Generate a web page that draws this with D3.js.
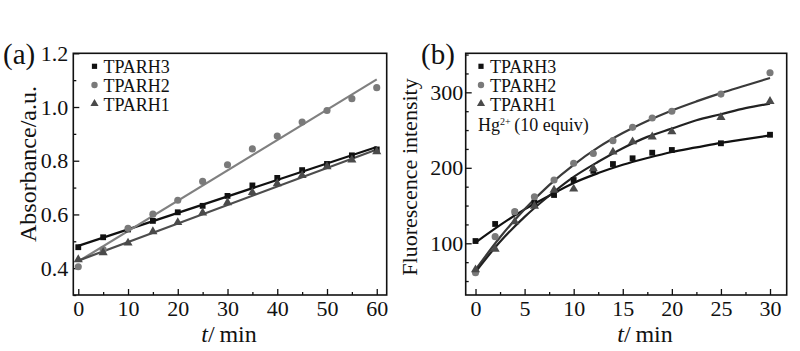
<!DOCTYPE html>
<html><head><meta charset="utf-8">
<script src="https://cdn.jsdelivr.net/npm/d3@7"></script>
<style>
html,body{margin:0;padding:0;background:#fff;}
svg{display:block;font-family:"Liberation Serif","Times New Roman",serif;}
</style></head>
<body>
<svg id="c" width="800" height="351"></svg>
<script>
// ---------- DATA ----------
const seriesNames = ["TPARH3", "TPARH2", "TPARH1"];

// Panel (a): absorbance vs time
const timeA = [0, 5, 10, 15, 20, 25, 30, 35, 40, 45, 50, 55, 60];
const absTPARH3 = [0.478, 0.515, 0.544, 0.576, 0.608, 0.632, 0.669, 0.708, 0.736, 0.765, 0.788, 0.820, 0.842];
const absTPARH2 = [0.405, 0.469, 0.548, 0.601, 0.653, 0.723, 0.785, 0.844, 0.892, 0.944, 0.987, 1.031, 1.072];
const absTPARH1 = [0.432, 0.458, 0.494, 0.536, 0.570, 0.606, 0.644, 0.682, 0.715, 0.745, 0.778, 0.803, 0.834];
// linear fit lines (value at t=0 and t=60)
const fitTimeA = [0, 60];
const absFitTPARH3 = [0.483, 0.851];
const absFitTPARH2 = [0.425, 1.103];
const absFitTPARH1 = [0.428, 0.842];
const xTicksA = [0, 10, 20, 30, 40, 50, 60];
const yTicksA = [0.4, 0.6, 0.8, 1.0, 1.2];

// Panel (b): fluorescence intensity vs time
const timeB = [0, 2, 4, 6, 8, 10, 12, 14, 16, 18, 20, 25, 30];
const flTPARH3 = [103, 125.6, 141, 154, 164, 183.8, 196, 205, 212.6, 220, 223.6, 232.5, 243.8];
const flTPARH2 = [61, 108.8, 141.9, 161.7, 183.8, 206, 219, 236, 253.6, 266, 275, 297.7, 326];
const flTPARH1 = [65, 92.4, 128.6, 149.4, 170.6, 172, 199, 221, 234.6, 241, 247.8, 266.9, 288];
// fitted curves
const fitTimeB = [0, 2.5, 5, 7.5, 10, 12.5, 15, 17.5, 20, 22.5, 25, 27.5, 30];
const flFitTPARH3 = [101, 124, 145, 163, 180, 193, 204, 213, 221, 227, 233, 238, 243];
const flFitTPARH2 = [65, 108, 145, 177, 204, 227, 246, 262, 276, 288, 299, 309, 319];
const flFitTPARH1 = [62, 102, 135, 163, 188, 208, 226, 241, 252, 263, 271, 279, 285];
const xTicksB = [0, 5, 10, 15, 20, 25, 30];
const yTicksB = [100, 200, 300];

// ---------- STYLE ----------
const markerColor = {TPARH3: "#111", TPARH2: "#7a7a7a", TPARH1: "#4a4a4a"};
const lineColorA = {TPARH3: "#111", TPARH2: "#808080", TPARH1: "#4d4d4d"};
const lineColorB = {TPARH3: "#111", TPARH2: "#3a3a3a", TPARH1: "#222"};
const markerType = {TPARH3: d3.symbolSquare, TPARH2: d3.symbolCircle, TPARH1: d3.symbolTriangle};
const markerSize = {TPARH3: 34, TPARH2: 40, TPARH1: 36};

const svg = d3.select("#c");

function panel(cfg) {
  const g = svg.append("g");
  const x = d3.scaleLinear().domain(cfg.xDomain).range([cfg.left, cfg.right]);
  const y = d3.scaleLinear().domain(cfg.yDomain).range([cfg.bottom, cfg.top]);

  // minor ticks
  g.append("g").attr("transform", `translate(0,${cfg.bottom})`)
    .call(d3.axisBottom(x).tickValues(cfg.xMinor).tickSize(-3).tickFormat(""))
    .call(a => a.select(".domain").remove());
  g.append("g").attr("transform", `translate(${cfg.left},0)`)
    .call(d3.axisLeft(y).tickValues(cfg.yMinor).tickSize(-3).tickFormat(""))
    .call(a => a.select(".domain").remove());
  // major ticks
  g.append("g").attr("transform", `translate(0,${cfg.bottom})`)
    .call(d3.axisBottom(x).tickValues(cfg.xTicks).tickSize(-6).tickPadding(5).tickFormat(d3.format("d")))
    .call(a => a.select(".domain").remove());
  g.append("g").attr("transform", `translate(${cfg.left},0)`)
    .call(d3.axisLeft(y).tickValues(cfg.yTicks).tickSize(-6).tickPadding(cfg.yPad).tickFormat(cfg.yFormat))
    .call(a => a.select(".domain").remove());
  g.selectAll(".tick line").attr("stroke", "#111").attr("stroke-width", 1.3);
  g.selectAll(".tick text").attr("font-size", 22).attr("fill", "#111")
    .attr("font-family", '"Liberation Serif", serif');

  // frame
  g.append("rect").attr("x", cfg.left).attr("y", cfg.top)
    .attr("width", cfg.right - cfg.left).attr("height", cfg.bottom - cfg.top)
    .attr("fill", "none").attr("stroke", "#111").attr("stroke-width", 1.6);

  // fit lines
  cfg.series.forEach(s => {
    const pts = s.fitX.map((t, i) => [t, s.fitY[i]]);
    g.append("path").datum(pts)
      .attr("fill", "none").attr("stroke", s.lineColor).attr("stroke-width", 2.2)
      .attr("d", d3.line().x(d => x(d[0])).y(d => y(d[1])).curve(d3.curveMonotoneX));
  });
  // markers
  cfg.series.forEach(s => {
    g.append("g").selectAll("path").data(s.x.map((t, i) => [t, s.y[i]])).join("path")
      .attr("transform", d => `translate(${x(d[0])},${y(d[1])})`)
      .attr("d", d3.symbol().type(markerType[s.name]).size(markerSize[s.name]))
      .attr("fill", markerColor[s.name]);
  });

  // legend
  cfg.series.forEach((s, i) => {
    const yy = cfg.legTop + i * 18.7;
    g.append("path").attr("transform", `translate(${cfg.legX},${yy - 7})`)
      .attr("d", d3.symbol().type(markerType[s.name]).size(markerSize[s.name] * 0.8))
      .attr("fill", markerColor[s.name]);
    g.append("text").attr("x", cfg.legX + 9).attr("y", yy).attr("font-size", 18)
      .attr("fill", "#111").text(s.name);
  });

  // panel label
  g.append("text").attr("x", cfg.labelX).attr("y", 64).attr("font-size", 29)
    .attr("fill", "#111").text(cfg.label);

  // axis titles
  const xt = g.append("text").attr("x", cfg.xTitleX).attr("y", 342).attr("text-anchor", "middle")
    .attr("font-size", 24).attr("fill", "#111");
  xt.append("tspan").attr("font-style", "italic").text("t");
  xt.append("tspan").text("/\u2009min");
  g.append("text").attr("transform", `translate(${cfg.yTitleX},${cfg.yTitleY}) rotate(-90)`)
    .attr("text-anchor", "middle").attr("font-size", cfg.yTitleSize).attr("fill", "#111")
    .text(cfg.yTitle);
  return {g, x, y};
}

panel({
  left: 73.3, right: 386.7, top: 53.3, bottom: 295,
  xDomain: [-1, 62], yDomain: [0.3, 1.2],
  xTicks: xTicksA, yTicks: yTicksA,
  xMinor: [5, 15, 25, 35, 45, 55], yMinor: [0.3, 0.5, 0.7, 0.9, 1.1],
  yFormat: d3.format(".1f"), yPad: 5,
  series: [
    {name: "TPARH3", x: timeA, y: absTPARH3, fitX: fitTimeA, fitY: absFitTPARH3, lineColor: lineColorA.TPARH3},
    {name: "TPARH2", x: timeA, y: absTPARH2, fitX: fitTimeA, fitY: absFitTPARH2, lineColor: lineColorA.TPARH2},
    {name: "TPARH1", x: timeA, y: absTPARH1, fitX: fitTimeA, fitY: absFitTPARH1, lineColor: lineColorA.TPARH1}
  ],
  legX: 94.5, legTop: 73.3,
  label: "(a)", labelX: 3,
  xTitleX: 229, yTitle: "Absorbance/a.u.", yTitleX: 36, yTitleY: 164, yTitleSize: 24
});

const pb = panel({
  left: 465.7, right: 786.7, top: 53.3, bottom: 295,
  xDomain: [-1, 31.7], yDomain: [31.5, 351.7],
  xTicks: xTicksB, yTicks: yTicksB,
  xMinor: [2.5, 7.5, 12.5, 17.5, 22.5, 27.5], yMinor: [50, 75, 125, 150, 175, 225, 250, 275, 325, 350],
  yFormat: d3.format("d"), yPad: 2.5,
  series: [
    {name: "TPARH3", x: timeB, y: flTPARH3, fitX: fitTimeB, fitY: flFitTPARH3, lineColor: lineColorB.TPARH3},
    {name: "TPARH2", x: timeB, y: flTPARH2, fitX: fitTimeB, fitY: flFitTPARH2, lineColor: lineColorB.TPARH2},
    {name: "TPARH1", x: timeB, y: flTPARH1, fitX: fitTimeB, fitY: flFitTPARH1, lineColor: lineColorB.TPARH1}
  ],
  legX: 481, legTop: 73.3,
  label: "(b)", labelX: 421,
  xTitleX: 645, yTitle: "Fluorescence intensity", yTitleX: 417, yTitleY: 177, yTitleSize: 22
});

// Hg2+ note
const hg = pb.g.append("text").attr("x", 478).attr("y", 131).attr("font-size", 18).attr("fill", "#111");
hg.append("tspan").text("Hg");
hg.append("tspan").attr("font-size", 10).attr("dy", -6).text("2+");
hg.append("tspan").attr("dy", 6).text("\u2009(10 equiv)");
</script>
</body></html>
